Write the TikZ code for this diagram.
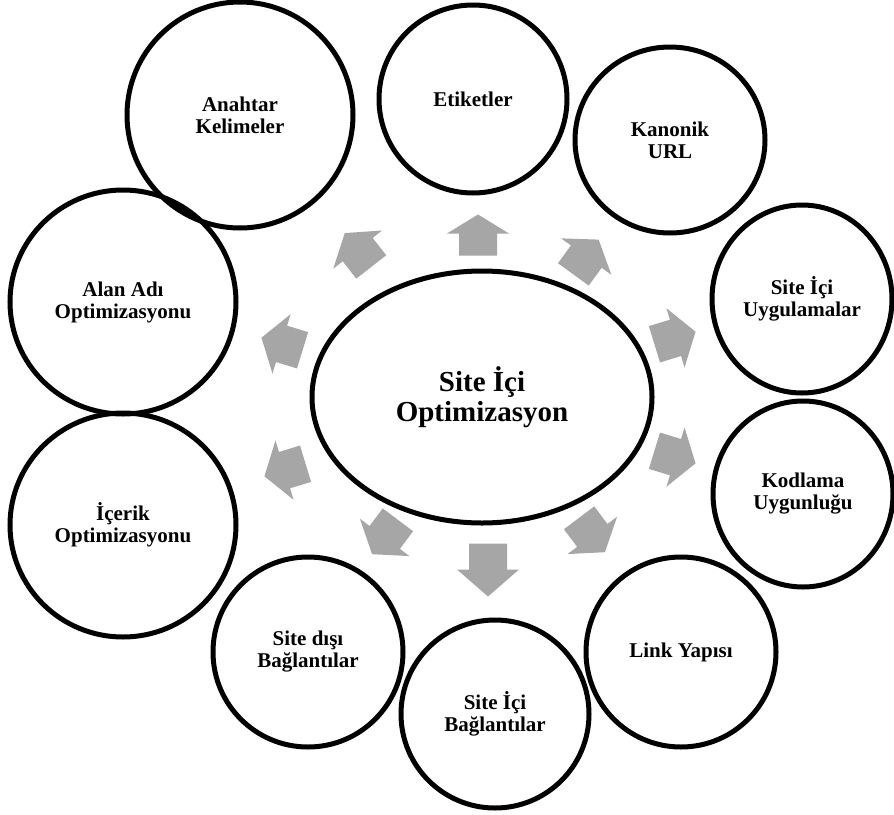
\documentclass[tikz,border=0pt]{standalone}
\usepackage{fontspec}
\setmainfont{Liberation Serif}
\usetikzlibrary{shapes.geometric}

\definecolor{arrowgray}{RGB}{166,166,166}

\tikzset{
  bubble/.style={ellipse, draw=black, line width=5pt, inner sep=0pt,
    align=center, font=\bfseries\fontsize{21}{22}\selectfont},
  hub/.style={bubble, font=\bfseries\fontsize{29}{30}\selectfont},
  bubblefill/.style={fill=white},
  blockarrow/.style={fill=arrowgray},
}

% block arrow: centre x, centre y (y measured downwards), direction, body length, head length
\newcommand\blockarr[5]{%
  \begin{scope}[shift={(#1,-#2)}, rotate=#3]
    \pgfmathsetmacro\arrHalf{(#4+#5)/2}
    \pgfmathsetmacro\arrBase{-\arrHalf+#4}
    \fill[blockarrow] (-\arrHalf,-19) -- (\arrBase,-19) -- (\arrBase,-31) -- (\arrHalf,0)
      -- (\arrBase,31) -- (\arrBase,19) -- (-\arrHalf,19) -- cycle;
  \end{scope}}

% white disc under a bubble so that crossing outlines stay visible
\newcommand\disc[4]{\fill[bubblefill] (#1,-#2) ellipse [x radius=#3, y radius=#4];}

\begin{document}
\begin{tikzpicture}[x=1pt, y=1pt]
  \useasboundingbox (0,0) rectangle (894,-814);
  \fill[white] (0,0) rectangle (894,-814);

  % white interiors
  \disc{240}{115}{113}{113}
  \disc{473}{99}{94}{94}
  \disc{670}{140}{95}{93}
  \disc{802}{299}{90}{94}
  \disc{803}{494}{90}{93}
  \disc{123}{302}{113}{112}
  \disc{123}{525}{113}{112}
  \disc{308}{652}{95}{95}
  \disc{495}{714}{94}{94}
  \disc{681}{652}{95}{95}
  \disc{482}{397}{170}{126}

  % central topic
  \node[hub, minimum width=340pt, minimum height=252pt] (hub) at (482,-397) {Site İçi\\Optimizasyon};

  % surrounding topics
  \node[bubble, minimum width=226pt, minimum height=226pt] (anahtar) at (240,-115) {Anahtar\\Kelimeler};
  \node[bubble, minimum width=188pt, minimum height=188pt] (etiket) at (473,-99) {Etiketler};
  \node[bubble, minimum width=190pt, minimum height=186pt] (kanonik) at (670,-140) {Kanonik\\URL};
  \node[bubble, minimum width=180pt, minimum height=188pt] (uygulama) at (802,-299) {Site İçi\\Uygulamalar};
  \node[bubble, minimum width=180pt, minimum height=186pt] (kodlama) at (803,-494) {Kodlama\\Uygunluğu};
  \node[bubble, minimum width=190pt, minimum height=190pt] (link) at (681,-652) {Link Yapısı};
  \node[bubble, minimum width=188pt, minimum height=188pt] (icbag) at (495,-714) {Site İçi\\Bağlantılar};
  \node[bubble, minimum width=190pt, minimum height=190pt] (disbag) at (308,-652) {Site dışı\\Bağlantılar};
  \node[bubble, minimum width=226pt, minimum height=224pt] (icerik) at (123,-525) {İçerik\\Optimizasyonu};
  \node[bubble, minimum width=226pt, minimum height=224pt] (alan) at (123,-302) {Alan Adı\\Optimizasyonu};

  % arrows from the central topic outwards
  \blockarr{358}{250}{128}{22}{21}
  \blockarr{478}{235}{90}{22}{19}
  \blockarr{586}{257}{54}{22}{21}
  \blockarr{675}{338}{17}{22}{21}
  \blockarr{675}{457}{-17}{22}{21}
  \blockarr{592}{535}{-53}{22}{21}
  \blockarr{488}{570}{-90}{26}{27}
  \blockarr{385}{537}{-127}{22}{21}
  \blockarr{285}{470}{-163}{22}{21}
  \blockarr{282}{344}{163}{22}{21}
\end{tikzpicture}
\end{document}
